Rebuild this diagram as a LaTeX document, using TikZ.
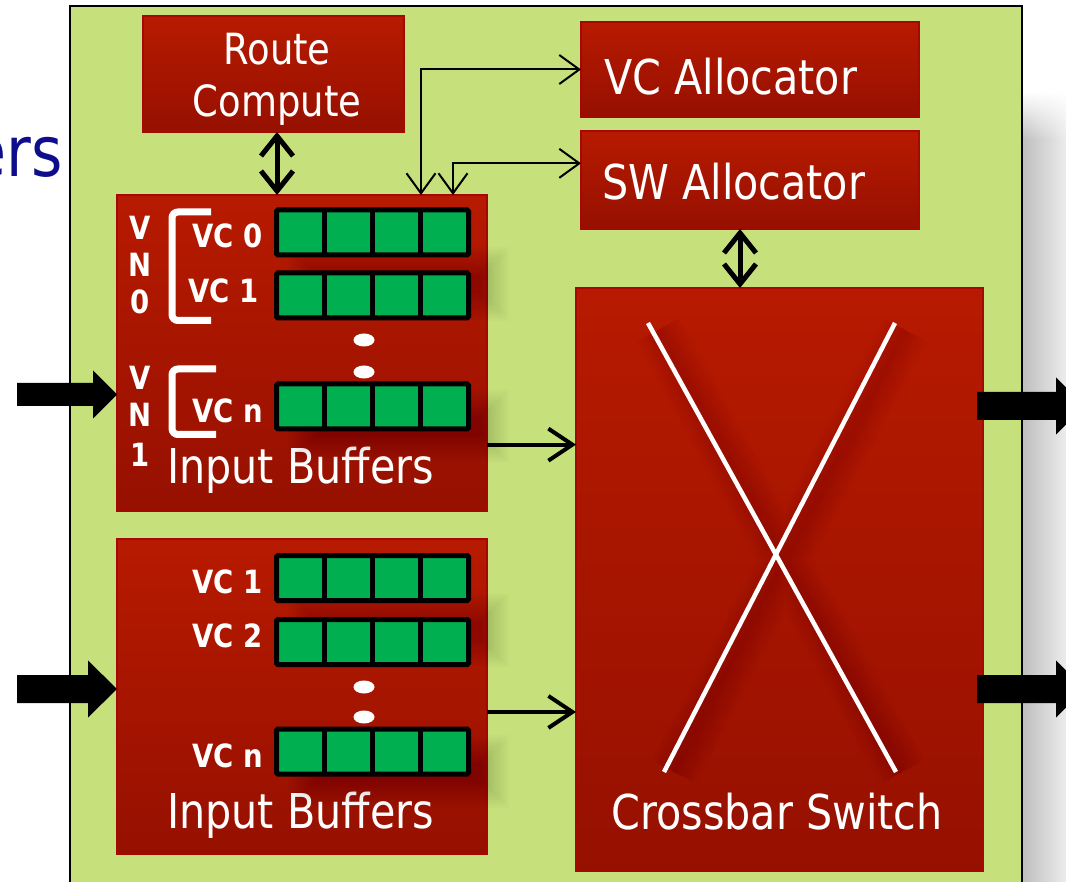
\documentclass[tikz,border=0pt]{standalone}
\usepackage{fontspec}
\setmainfont{DejaVu Sans}[FakeStretch=0.86]
\usetikzlibrary{arrows.meta,calc,fadings}

\definecolor{panel}{RGB}{198,224,123}
\definecolor{redtop}{RGB}{183,26,0}
\definecolor{redbot}{RGB}{150,16,0}
\definecolor{rededge}{RGB}{165,8,0}
\definecolor{cellgreen}{RGB}{0,176,80}
\definecolor{titleblue}{RGB}{14,14,140}
\definecolor{shadowL}{RGB}{190,190,190}
\definecolor{shadowR}{RGB}{236,236,236}

\tikzfading[name=fadein, top color=transparent!100, bottom color=transparent!0]

\tikzset{
  redbox/.style={rectangle, draw=rededge, line width=1.5pt, top color=redtop,
    bottom color=redbot, inner sep=0pt, outer sep=0pt},
  bufrow/.style={rectangle, draw=black, line width=5pt, fill=cellgreen,
    minimum width=192pt, minimum height=45pt, inner sep=0pt, outer sep=0pt,
    rounded corners=1.5pt},
  shadowarea/.style={rectangle, minimum width=192pt, minimum height=45pt, inner sep=0pt},
  vclabel/.style={text=white, font=\bfseries\fontsize{32}{38}\selectfont,
    inner sep=0pt, anchor=base east},
  vnletter/.style={text=white, font=\bfseries\fontsize{32}{38}\selectfont,
    inner sep=0pt, anchor=base},
  bigtext/.style={text=white, font=\fontsize{48}{56}\selectfont, inner sep=0pt},
  bracket/.style={draw=white, line width=7pt, rounded corners=6pt},
  link/.style={draw=black, line width=2pt,
    {Straight Barb[length=20pt,width=29pt]}-{Straight Barb[length=20pt,width=29pt]}},
  feed/.style={draw=black, line width=4pt, -{Straight Barb[length=24pt,width=32pt]}},
  duplex/.style={draw=black, line width=5pt,
    {Straight Barb[length=20pt,width=32pt]}-{Straight Barb[length=20pt,width=32pt]}},
}

% one buffer of four flit slots
\newcommand\cellrow[3]{%
  \node[bufrow] (#1) at (#2,#3) {};
  \foreach \t in {0.25,0.5,0.75}
    \draw[line width=5pt] ($(#1.north west)!\t!(#1.north east)$) --
                          ($(#1.south west)!\t!(#1.south east)$);
}

% soft cast shadow of a node: node, x offset, y offset
\newcommand\softshadow[3]{%
  \foreach \g in {-7,...,7}
    \fill[black, opacity=0.011]
      ($(#1.north west)+(#2-2*\g,#3-2*\g)$) rectangle ($(#1.south east)+(#2+2*\g,#3+2*\g)$);
}

% thick block arrow: tail, tip, half shaft, half head, head length
\newcommand\blockarrow[5]{%
  \fill[black] ($(#1)+(0,#3)$) -- ($(#2)+(-#5,#3)$) -- ($(#2)+(-#5,#4)$) -- (#2)
    -- ($(#2)+(-#5,-#4)$) -- ($(#2)+(-#5,-#3)$) -- ($(#1)+(0,-#3)$) -- cycle;
}

\begin{document}
\begin{tikzpicture}[x=1pt,y=-1pt]
\path[use as bounding box] (0,0) rectangle (1066,882);
\clip (0,0) rectangle (1066,882);
\fill[white] (0,0) rectangle (1066,882);

% title fragment on the slide
\node[text=titleblue, font=\fontsize{70}{80}\selectfont, anchor=base east,
  inner sep=0pt] (heading) at (63,177) {ers};

% shadow of the router panel
\shade[left color=shadowL, right color=shadowR] (1022,140) rectangle (1066,882);
\shade[left color=shadowL, right color=shadowR, path fading=fadein]
  (1022,92) rectangle (1066,140);

% router panel
\node[draw=black, fill=panel, line width=2.5pt, minimum width=952pt,
  minimum height=899pt, inner sep=0pt] (router) at (546,455.5) {};

% functional blocks
\node[redbox, minimum width=261pt, minimum height=116pt] (route) at (273.5,74) {};
\node[redbox, minimum width=338pt, minimum height=95pt] (vca) at (750,69.5) {};
\node[redbox, minimum width=338pt, minimum height=98pt] (swa) at (750,180) {};
\node[redbox, minimum width=370pt, minimum height=316pt] (buf1) at (302,353) {};
\node[redbox, minimum width=370pt, minimum height=315pt] (buf2) at (302,696.5) {};
\node[redbox, minimum width=407pt, minimum height=583pt] (xbar) at (779.5,579.5) {};

% block titles
\node[text=white, font=\fontsize{43}{52}\selectfont, inner sep=0pt, anchor=base]
  (routeA) at (277,65) {Route};
\node[text=white, font=\fontsize{43}{52}\selectfont, inner sep=0pt, anchor=base]
  (routeB) at (277,117) {Compute};
\node[bigtext, anchor=base west] (vcaT) at (604,95) {VC Allocator};
\node[bigtext, anchor=base west] (swaT) at (602,200) {SW Allocator};
\node[bigtext, anchor=base] (buf1T) at (300.5,483) {Input Buffers};
\node[bigtext, anchor=base] (buf2T) at (300.5,828) {Input Buffers};
\node[bigtext, anchor=base] (xbarT) at (777,829) {Crossbar Switch};

% crossbar
\begin{scope}
  \clip (xbar.north west) rectangle (xbar.south east);
  \foreach \g in {0,...,9}
    \draw[black, opacity=0.009, line width=6pt+5pt*\g] (658,330) -- (902,772)
      (905,330) -- (674,772);
\end{scope}
\draw[white, line width=4.5pt] (648,323) -- (896,772);
\draw[white, line width=4.5pt] (895,323) -- (664,772);

% first input port: two virtual networks
\node[shadowarea] (b1sh) at (372.5,264) {};
\node[shadowarea] (b1shn) at (372.5,406.5) {};
\softshadow{b1sh}{26}{20}
\softshadow{b1shn}{26}{20}
\cellrow{b1r0}{372.5}{232.5}
\cellrow{b1r1}{372.5}{295.5}
\cellrow{b1rn}{372.5}{406.5}
\fill[white] (364,340) ellipse [x radius=10.5, y radius=6.5];
\fill[white] (364,372) ellipse [x radius=10.5, y radius=6.5];
\node[vclabel] (b1l0) at (263,248) {VC 0};
\node[vclabel] (b1l1) at (259,303) {VC 1};
\node[vclabel] (b1ln) at (263,423) {VC n};
\node[vnletter] (vn0a) at (140,240) {V};
\node[vnletter] (vn0b) at (140,277) {N};
\node[vnletter] (vn0c) at (140,314) {0};
\node[vnletter] (vn1a) at (140,390) {V};
\node[vnletter] (vn1b) at (140,427) {N};
\node[vnletter] (vn1c) at (140,467) {1};
\draw[bracket] (211,212) -- (172,212) -- (172,320.5) -- (211,320.5);
\draw[bracket] (216,369) -- (172,369) -- (172,434.5) -- (216,434.5);

% second input port
\node[shadowarea] (b2sh) at (372.5,610) {};
\node[shadowarea] (b2shn) at (372.5,751.5) {};
\softshadow{b2sh}{26}{20}
\softshadow{b2shn}{26}{20}
\cellrow{b2r1}{372.5}{578}
\cellrow{b2r2}{372.5}{642}
\cellrow{b2rn}{372.5}{751.5}
\fill[white] (364,687) ellipse [x radius=10.5, y radius=6.5];
\fill[white] (364,717) ellipse [x radius=10.5, y radius=6.5];
\node[vclabel] (b2l1) at (263,593) {VC 1};
\node[vclabel] (b2l2) at (263,647) {VC 2};
\node[vclabel] (b2ln) at (263,767) {VC n};

% control connections
\coordinate (rcx) at (277,0);
\draw[duplex] (route.south -| rcx) -- (buf1.north -| rcx);
\coordinate (sxx) at (740,0);
\draw[duplex] (swa.south -| sxx) -- (xbar.north -| sxx);
\coordinate (vcdrop) at (421,0);
\draw[link] (vca.west) -| (buf1.north -| vcdrop);
\coordinate (swin) at ($(swa.north west)!0.33!(swa.south west)$);
\coordinate (swdrop) at (453,0);
\draw[link] (swin) -| (buf1.north -| swdrop);

% datapath into the crossbar
\coordinate (f1) at ($(buf1.north east)!0.79!(buf1.south east)$);
\draw[feed] (f1) -- (f1 -| xbar.west);
\coordinate (f2) at ($(buf2.north east)!0.549!(buf2.south east)$);
\draw[feed] (f2) -- (f2 -| xbar.west);

% input and output links
\coordinate (inA) at (17,394.5);
\coordinate (inB) at (17,689);
\coordinate (inAt) at (buf1.west |- inA);
\coordinate (inBt) at (buf2.west |- inB);
\blockarrow{inA}{inAt}{11.5}{24}{24}
\blockarrow{inB}{inBt}{14}{28.5}{29}
\coordinate (outA) at (1085,406);
\coordinate (outB) at (1085,689);
\coordinate (outAs) at ($(xbar.east |- outA)+(-6,0)$);
\coordinate (outBs) at ($(xbar.east |- outB)+(-6,0)$);
\blockarrow{outAs}{outA}{14}{28.5}{29}
\blockarrow{outBs}{outB}{14}{28.5}{29}
\end{tikzpicture}
\end{document}
